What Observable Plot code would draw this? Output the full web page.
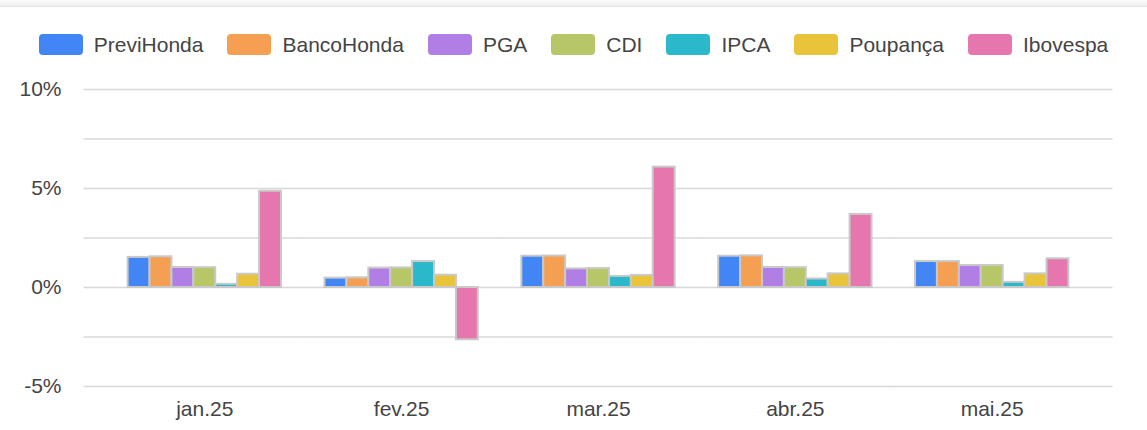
<!DOCTYPE html>
<html>
<head>
<meta charset="utf-8">
<script src="https://cdn.jsdelivr.net/npm/d3@7"></script>
<script src="https://cdn.jsdelivr.net/npm/@observablehq/plot@0.6"></script>
<style>
  html, body { margin: 0; padding: 0; background: #fff; }
  body { width: 1147px; height: 430px; overflow: hidden; font-family: "Liberation Sans", Arial, sans-serif; color: #444; }
  #topbar { height: 6px; background: linear-gradient(#fbfbfb, #efefef); border-bottom: 1px solid #e4e4e4; }
  #legend { height: 63px; box-sizing: border-box; padding-top: 27px; display: flex; justify-content: center; align-items: flex-start; }
  .item { display: flex; align-items: center; margin: 0 12px; height: 21px; }
  .sw { width: 44px; height: 21px; border-radius: 4px; margin-right: 11px; }
  .lb { font-size: 21px; line-height: 21px; color: #444; }
  #chart svg { display: block; }
</style>
</head>
<body>
<div id="topbar"></div>
<div id="legend"></div>
<div id="chart"></div>
<script>
const months = ["jan.25", "fev.25", "mar.25", "abr.25", "mai.25"];
const series = ["PreviHonda", "BancoHonda", "PGA", "CDI", "IPCA", "Poupança", "Ibovespa"];
const colors = ["#4285f4", "#f59f52", "#b07ee4", "#b7c667", "#2bb8cb", "#e9c43b", "#e676ae"];
const previHonda = [1.52, 0.47, 1.58, 1.58, 1.31];
const bancoHonda = [1.55, 0.49, 1.59, 1.60, 1.31];
const pga        = [1.01, 0.98, 0.94, 1.01, 1.11];
const cdi        = [1.00, 0.99, 0.96, 1.00, 1.11];
const ipca       = [0.16, 1.31, 0.56, 0.43, 0.26];
const poupanca   = [0.67, 0.62, 0.61, 0.69, 0.69];
const ibovespa   = [4.86, -2.64, 6.08, 3.69, 1.45];
const yTicks = [-5, 0, 5, 10];
const gridTicks = [-5, -2.5, 0, 2.5, 5, 7.5, 10];

const seriesValues = [previHonda, bancoHonda, pga, cdi, ipca, poupanca, ibovespa];
const data = [];
months.forEach((m, i) => {
  series.forEach((s, j) => data.push({month: m, series: s, value: seriesValues[j][i]}));
});

// grid rows tagged by facet so each facet's rule fills the gap to its neighbours
const gridRows = (keys) => keys.flatMap(m => gridTicks.map(t => ({month: m, tick: t})));
const first = months[0], last = months[months.length - 1];
const middle = months.slice(1, -1);

const W = 1147, ML = 84, MR = 35;
const PI = 0.221, PO = 0.2216;
const step = (W - ML - MR) / (months.length - PI + 2 * PO);
const innerGap = step * PI / 2 + 0.3;
const outerGap = step * PO + 0.5;
const gridStyle = {x: null, y: "tick", fx: "month", stroke: "#d8d8d8", strokeWidth: 1.6};

const plot = Plot.plot({
  width: W,
  height: 360,
  marginTop: 19,
  marginBottom: 44,
  marginLeft: ML,
  marginRight: MR,
  style: {fontFamily: "'Liberation Sans', Arial, sans-serif", color: "#444", background: "#fff"},
  fx: {domain: months, paddingInner: PI, paddingOuter: PO, round: false, label: null},
  x: {domain: series, padding: 0, round: false, axis: null},
  y: {domain: [-5, 10], label: null},
  color: {domain: series, range: colors},
  marks: [
    Plot.ruleY(gridRows(middle), {...gridStyle, insetLeft: -innerGap, insetRight: -innerGap}),
    Plot.ruleY(gridRows([first]), {...gridStyle, insetLeft: -outerGap, insetRight: -innerGap}),
    Plot.ruleY(gridRows([last]), {...gridStyle, insetLeft: -innerGap, insetRight: -outerGap}),
    Plot.barY(data, {fx: "month", x: "series", y: "value", fill: "series", stroke: "#c9c9c9", strokeWidth: 2}),
    Plot.axisY(yTicks, {facetAnchor: "left", tickSize: 0, tickPadding: 23 + step * PO, fontSize: 21, tickFormat: d => d + "%", label: null, fill: "#444"}),
    Plot.axisFx({anchor: "bottom", tickSize: 0, tickPadding: 15, fontSize: 21, label: null, fill: "#444"})
  ]
});
document.getElementById("chart").appendChild(plot);

const color = plot.scale("color");
const legend = document.getElementById("legend");
series.forEach(s => {
  const it = document.createElement("div");
  it.className = "item";
  const sw = document.createElement("div");
  sw.className = "sw";
  sw.style.background = color.apply(s);
  const lb = document.createElement("span");
  lb.className = "lb";
  lb.textContent = s;
  it.appendChild(sw);
  it.appendChild(lb);
  legend.appendChild(it);
});
</script>
</body>
</html>
